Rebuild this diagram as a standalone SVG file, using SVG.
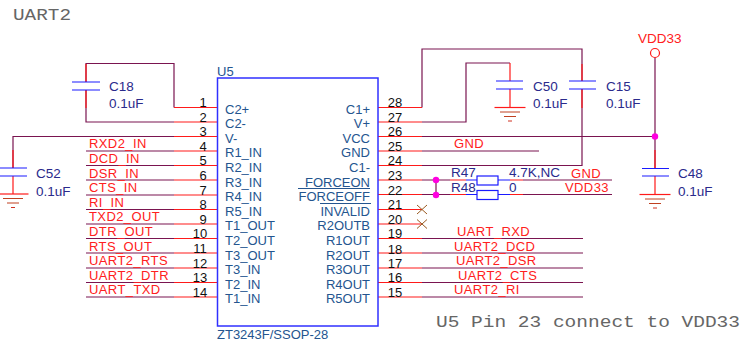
<svg xmlns="http://www.w3.org/2000/svg" width="742" height="346" viewBox="0 0 742 346">
<defs>
<style>
text{font-family:"Liberation Sans",Arial,sans-serif}
.w{fill:none;stroke:#7a1450;stroke-width:1.2}
.r{fill:none;stroke:#ff1a1a;stroke-width:1.2}
.b{fill:none;stroke:#1a1aff;stroke-width:1.2}
.chip{fill:#fff;stroke:#3030ff;stroke-width:1.5}
.n{font-size:13px;fill:#111}
.p{font-size:13px;fill:#24558f}
.v{font-size:13.5px;fill:#2a2a8c}
.l{font-size:13px;fill:#ff2020;letter-spacing:.4px}
.m{font-family:"Liberation Mono",monospace;font-size:16px;fill:#666}
.x{stroke:#9a5a20;stroke-width:1;fill:none}
.d{fill:#ff00e0}
</style>
<g id="gnd-sym">
<path d="M-15.500 0H15.500" stroke="#ff1a1a" stroke-width="1.2"/>
<path d="M-10 4.500H10" stroke="#c04020" stroke-width="1"/>
<path d="M-6 9H6" stroke="#c04020" stroke-width="1"/>
<path d="M-2 13.500H2" stroke="#d03020" stroke-width="1"/>
</g>
</defs>
<rect width="742" height="346" fill="#fff"/>
<text class="m" x="13" y="20" textLength="58" lengthAdjust="spacingAndGlyphs">UART2</text>
<text class="m" x="436" y="327" textLength="304" lengthAdjust="spacingAndGlyphs">U5 Pin 23 connect to VDD33</text>

<g id="connectors">
<path class="w" d="M86 82V63.500H174V107.500M86 90V122H174M174 136.500H13V168M86 151H174M86 165.500H174M86 180H174M86 195H174M86 209.500H174M86 224H174M86 238.500H174M86 253H174M86 268H174M86 282.500H174M86 297H174"/>
<path class="r" d="M174 107.500H217M174 122H217M174 136.500H217M174 151H217M174 165.500H217M174 180H217M174 195H217M174 209.500H217M174 224H217M174 238.500H217M174 253H217M174 268H217M174 282.500H217M174 297H217M86 64V82M86 90V108M13 150V168M13 176V194"/>
<path class="w" d="M422 107.500V49H582V81M582 89V165.500H422M422 122H466V63H510M422 136.500H655M422 151H539M655 57.500V168M422 180H450M422 194.500H450M523 180H612M523 194.500H612M422 238.500H583M422 253H583M422 268H583M422 282.500H583M422 297H583"/>
<path class="r" d="M378 107.500H422M378 122H422M378 136.500H422M378 151H422M378 165.500H422M378 180H422M378 194.500H422M378 209.500H422M378 224H422M378 238.500H422M378 253H422M378 268H422M378 282.500H422M378 297H422M510 63V81M510 89V107M582 64V81M582 89V108M655 150V168M655 176V194M450 180H466M450 194.500H466M510 180H523M510 194.500H523"/>
<path class="b" d="M466 180H477M466 194.500H477M498 180H510M498 194.500H510"/>
<path stroke="#7a1450" stroke-width="1.2" d="M436 180V195"/>
<circle class="d" cx="436" cy="180" r="3.200"/>
<circle class="d" cx="436" cy="195" r="3.200"/>
<circle class="d" cx="655" cy="136.500" r="3.200"/>
<path class="x" d="M417 205L427 214M427 205L417 214M417 219.500L427 228.500M427 219.500L417 228.500"/>
</g>

<g id="U5">
<rect class="chip" x="217.500" y="78" width="160.500" height="248"/>
<text x="217" y="76" class="p">U5</text>
<text x="217" y="339" class="p">ZT3243F/SSOP-28</text>
<g class="n" text-anchor="middle">
<text x="203" y="107">1</text><text x="203" y="121.500">2</text><text x="203" y="136">3</text><text x="203" y="150.500">4</text><text x="203" y="165">5</text><text x="203" y="180">6</text><text x="203" y="195">7</text><text x="203" y="209">8</text><text x="203" y="224">9</text><text x="200" y="238">10</text><text x="200" y="253">11</text><text x="200" y="268">12</text><text x="200" y="282">13</text><text x="200" y="297">14</text>
<text x="395" y="107">28</text><text x="395" y="122">27</text><text x="395" y="136">26</text><text x="395" y="151">25</text><text x="395" y="165">24</text><text x="395" y="180">23</text><text x="395" y="195">22</text><text x="395" y="209">21</text><text x="395" y="224">20</text><text x="395" y="238">19</text><text x="395" y="254">18</text><text x="395" y="268">17</text><text x="395" y="282">16</text><text x="395" y="297">15</text>
</g>
<g class="p">
<text x="225" y="114">C2+</text><text x="225" y="128">C2-</text><text x="225" y="143">V-</text><text x="225" y="157">R1_IN</text><text x="225" y="172">R2_IN</text><text x="225" y="187">R3_IN</text><text x="225" y="201">R4_IN</text><text x="225" y="216">R5_IN</text><text x="225" y="230">T1_OUT</text><text x="225" y="245">T2_OUT</text><text x="225" y="260">T3_OUT</text><text x="225" y="274">T3_IN</text><text x="225" y="289">T2_IN</text><text x="225" y="303">T1_IN</text>
</g>
<g class="p" text-anchor="end">
<text x="370" y="114">C1+</text><text x="370" y="128">V+</text><text x="370" y="143">VCC</text><text x="370" y="157">GND</text><text x="370" y="172">C1-</text><text x="370" y="187">FORCEON</text><text x="370" y="201">FORCEOFF</text><text x="370" y="216">INVALID</text><text x="370" y="230">R2OUTB</text><text x="370" y="245">R1OUT</text><text x="370" y="260">R2OUT</text><text x="370" y="274">R3OUT</text><text x="370" y="289">R4OUT</text><text x="370" y="303">R5OUT</text>
</g>
<path d="M298 188.500H370M320 203.500H371" stroke="#24558f" stroke-width="1" fill="none"/>
</g>

<g id="net-labels" class="l">
<text x="89" y="148">RXD2_IN</text><text x="89" y="163">DCD_IN</text><text x="89" y="178">DSR_IN</text><text x="89" y="192">CTS_IN</text><text x="89" y="207">RI_IN</text><text x="89" y="221">TXD2_OUT</text><text x="89" y="236">DTR_OUT</text><text x="89" y="251">RTS_OUT</text><text x="89" y="265">UART2_RTS</text><text x="89" y="280">UART2_DTR</text><text x="89" y="294">UART_TXD</text>
<text x="454" y="148">GND</text>
<text x="571" y="178">GND</text><text x="565" y="192">VDD33</text>
<text x="457" y="236">UART_RXD</text><text x="454" y="251">UART2_DCD</text><text x="456" y="265">UART2_DSR</text><text x="458" y="280">UART2_CTS</text><text x="454" y="294">UART2_RI</text>
</g>

<g id="C18"><path class="b" d="M72 82H100M72 90H100"/><text class="v" x="109" y="91">C18</text><text class="v" x="109" y="108">0.1uF</text></g>
<g id="C52"><path class="b" d="M0 168H27M0 176H27"/><use href="#gnd-sym" x="13" y="194"/><text class="v" x="36" y="178">C52</text><text class="v" x="36" y="196">0.1uF</text></g>
<g id="C50"><path class="b" d="M496 81H523M496 89H523"/><use href="#gnd-sym" x="510" y="107.500"/><text class="v" x="533" y="91">C50</text><text class="v" x="533" y="108">0.1uF</text></g>
<g id="C15"><path class="b" d="M569 81H596M569 89H596"/><text class="v" x="606" y="91">C15</text><text class="v" x="606" y="108">0.1uF</text></g>
<g id="C48"><path class="b" d="M642 168.500H669M642 176H669"/><use href="#gnd-sym" x="655" y="194.500"/><text class="v" x="678" y="178">C48</text><text class="v" x="678" y="196">0.1uF</text></g>
<g id="R47"><rect class="b" x="477" y="176" width="21" height="9"/><text class="v" x="451" y="177">R47</text><text class="v" x="509" y="177">4.7K,NC</text></g>
<g id="R48"><rect class="b" x="477" y="190.500" width="21" height="9"/><text class="v" x="451" y="192">R48</text><text class="v" x="509" y="192">0</text></g>
<g id="VDD33"><circle cx="655" cy="53" r="4.500" fill="none" stroke="#ff1a1a" stroke-width="1.2"/><text x="638" y="43" font-size="13.500" fill="#ff2020">VDD33</text></g>
</svg>
